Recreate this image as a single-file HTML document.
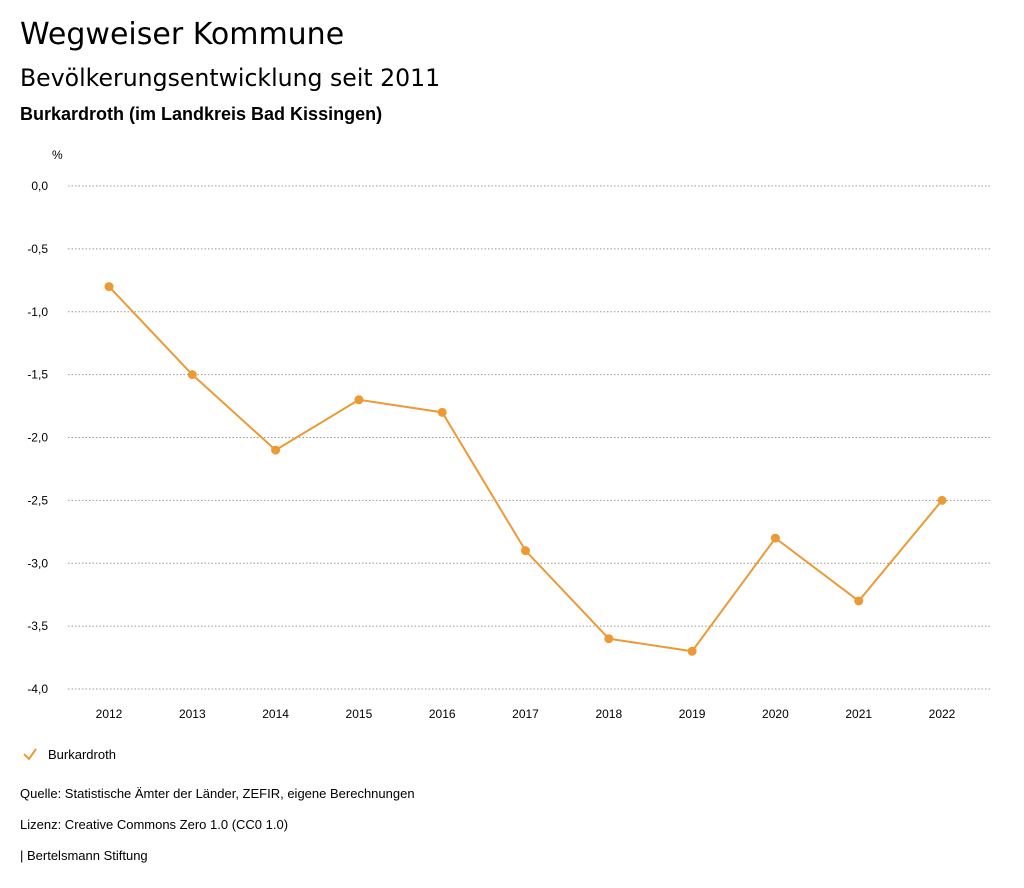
<!DOCTYPE html>
<html><head><meta charset="utf-8">
<style>
body{margin:0;background:#fff;font-family:"Liberation Sans",sans-serif;color:#000;}
.t{position:absolute;left:20px;white-space:nowrap;}
</style></head>
<body>
<div style="position:relative;width:1024px;height:888px;overflow:hidden">
<div class="t" style="top:17px;font-size:30px;font-family:'DejaVu Sans',sans-serif">Wegweiser Kommune</div>
<div class="t" style="top:64px;font-size:23.6px;font-family:'DejaVu Sans',sans-serif">Bevölkerungsentwicklung seit 2011</div>
<div class="t" style="top:104px;font-size:18px;font-weight:bold">Burkardroth (im Landkreis Bad Kissingen)</div>
<svg id="chart" width="1024" height="888" style="position:absolute;left:0;top:0" font-family="Liberation Sans, sans-serif"></svg>
<div class="t" style="top:786px;font-size:13px">Quelle: Statistische Ämter der Länder, ZEFIR, eigene Berechnungen</div>
<div class="t" style="top:817px;font-size:13px">Lizenz: Creative Commons Zero 1.0 (CC0 1.0)</div>
<div class="t" style="top:848px;font-size:13px">| Bertelsmann Stiftung</div>
</div>
<script>
const years=["2012","2013","2014","2015","2016","2017","2018","2019","2020","2021","2022"];
const values=[-0.8,-1.5,-2.1,-1.7,-1.8,-2.9,-3.6,-3.7,-2.8,-3.3,-2.5];
const yTicks=[0,-0.5,-1,-1.5,-2,-2.5,-3,-3.5,-4];
const yTickLabels=["0,0","-0,5","-1,0","-1,5","-2,0","-2,5","-3,0","-3,5","-4,0"];
const NS="http://www.w3.org/2000/svg";
const svg=document.getElementById('chart');
const x=i=>109+i*(942-109)/(years.length-1);
const y=v=>186+(-v)*(689-186)/4;
function mk(tag,attrs,parent){const e=document.createElementNS(NS,tag);for(const k in attrs)e.setAttribute(k,attrs[k]);(parent||svg).appendChild(e);return e;}
const u=mk('text',{x:52,y:159,'font-size':12});u.textContent='%';


yTicks.forEach((v,i)=>{
 const l=mk('line',{x1:68,x2:990,y1:y(v),y2:y(v),stroke:'#999','stroke-dasharray':'1.5,2','stroke-width':1});
 
 
 const t=mk('text',{x:48,y:y(v)+4,'font-size':12,'text-anchor':'end'});t.textContent=yTickLabels[i];
 
 
});
years.forEach((yr,i)=>{
 const t=mk('text',{x:x(i),y:718,'font-size':12,'text-anchor':'middle'});t.textContent=yr;
 
 
});
const p=mk('polyline',{points:values.map((v,i)=>x(i)+','+y(v)).join(' '),fill:'none',stroke:'#ec9a36','stroke-width':2});


values.forEach((v,i)=>{
 const c=mk('circle',{cx:x(i),cy:y(v),r:4.5,fill:'#ec9a36'});
 
 
});
const g=mk('g',{});


mk('polyline',{points:'24,754 29,759 36,749',fill:'none',stroke:'#ec9a36','stroke-width':2},g);
const lt=mk('text',{x:48,y:759,'font-size':13},g);lt.textContent='Burkardroth';
</script>
</body></html>
